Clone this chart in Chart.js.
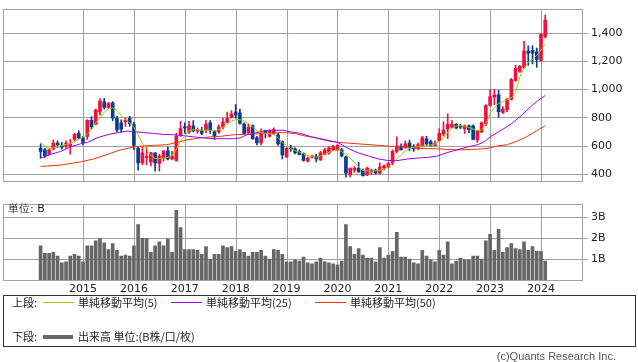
<!DOCTYPE html>
<html>
<head>
<meta charset="utf-8">
<script src="https://cdn.jsdelivr.net/npm/chart.js@4/dist/chart.umd.min.js"></script>
<style>
  body { margin: 0; background: #fff; width: 638px; height: 362px; position: relative; overflow: hidden; }
  canvas { position: absolute; left: 0; }
  .txt { position: absolute; font-family: 'Noto Sans CJK JP', sans-serif; font-size: 11px; color: #222; white-space: nowrap; line-height: 14px; }
  .ln { position: absolute; height: 1px; }
  #legendBox { position: absolute; left: 3px; top: 295px; width: 631px; height: 50px; border: 1px solid #333; }
</style>
</head>
<body>
<canvas id="priceChart" width="638" height="191" style="top:0"></canvas>
<canvas id="volChart" width="638" height="105" style="top:195px"></canvas>
<div class="txt" style="left:8px;top:202px;font-family:'DejaVu Sans';font-size:11px">単位: B</div>

<div id="legendBox"></div>
<div class="txt" style="left:12px;top:295px">上段:</div>
<div class="ln" style="left:43px;top:302px;width:31px;background:#99cc00"></div>
<div class="txt" style="left:78px;top:295px">単純移動平均(5)</div>
<div class="ln" style="left:171px;top:302px;width:31px;background:#9900ff"></div>
<div class="txt" style="left:206px;top:295px">単純移動平均(25)</div>
<div class="ln" style="left:315px;top:302px;width:31px;background:#ff3300"></div>
<div class="txt" style="left:350px;top:295px">単純移動平均(50)</div>
<div class="txt" style="left:12px;top:329px">下段:</div>
<div class="ln" style="left:43px;top:335px;width:30px;height:4px;background:#666"></div>
<div class="txt" style="left:78px;top:329px">出来高 単位:(B株/口/枚)</div>
<div class="txt" style="right:22px;top:349px;color:#555;font-family:'Liberation Sans'">(c)Quants Research Inc.</div>

<script>
// 月足: 2014年3月 〜 2024年2月 (x = 2015年1月からの月数)
const startMonth = -10;
const yearTicks = [2015, 2016, 2017, 2018, 2019, 2020, 2021, 2022, 2023, 2024];

const opens = [584,573,541,579,622,605,599,599,648,690,658,669,782,755,842,913,874,906,797,765,
  772,797,752,584,481,518,487,552,477,515,567,509,498,680,737,701,744,706,712,712,
  765,701,701,733,770,802,840,836,755,695,744,658,622,712,669,690,680,631,524,588,
  580,562,545,494,520,530,502,541,552,573,573,573,524,396,430,445,430,396,417,430,
  408,445,451,477,562,594,594,622,594,584,601,652,631,605,637,685,722,733,754,744,
  722,744,744,643,701,759,887,947,962,838,857,930,1064,1128,1156,1272,1278,1267,1207,1374];
const highs = [616,584,577,643,637,626,637,648,690,708,669,787,808,861,936,938,910,915,810,785,
  800,810,770,594,594,588,555,552,541,567,594,562,690,776,765,776,780,729,733,780,
  780,712,750,797,840,851,893,862,765,754,750,669,722,712,716,729,690,637,588,605,
  588,573,552,524,537,541,562,584,594,605,610,584,530,445,455,487,438,451,438,438,
  481,466,487,573,665,616,637,643,610,622,669,669,643,637,722,772,829,780,759,754,
  750,750,750,712,772,893,1000,1000,994,880,936,1080,1171,1171,1342,1310,1310,1293,1396,1528];
const lows = [515,520,537,573,588,579,584,541,637,652,609,648,722,750,819,861,865,780,700,700,
  740,740,575,430,466,466,460,423,423,494,502,502,494,669,690,690,701,690,680,695,
  690,648,690,722,765,797,797,755,680,690,648,609,609,658,665,680,605,509,520,562,
  545,537,494,487,515,487,498,537,541,567,567,524,380,381,413,413,387,391,402,402,
  402,430,445,466,552,573,584,567,562,573,594,605,601,601,631,672,652,729,722,722,
  690,695,643,626,695,744,883,893,802,830,844,926,1058,1122,1150,1171,1182,1156,1199,1364];
const closes = [562,530,573,622,609,592,622,616,684,658,626,782,737,855,919,874,900,797,714,720,
  784,759,605,481,552,524,552,481,530,567,509,530,669,723,729,744,708,716,690,755,
  712,669,737,770,797,829,819,760,690,733,652,622,690,690,708,716,616,537,584,580,
  552,541,498,515,530,509,552,573,588,594,605,530,408,445,445,417,391,445,430,408,
  451,460,477,562,601,573,616,594,580,610,658,616,605,622,690,714,754,754,729,733,
  744,716,648,708,765,887,951,962,844,862,932,1071,1150,1165,1272,1257,1257,1214,1391,1492];

// 出来高 (B)
const volumes = [1.64,1.28,1.28,1.32,1.14,0.82,0.87,1.14,1.23,1.14,0.87,1.64,1.64,1.87,1.98,1.78,1.46,1.74,1.42,1.14,
  1.19,1.14,1.64,2.65,2.0,2.0,1.32,1.64,1.83,1.64,1.96,1.32,3.33,2.51,1.46,1.46,1.46,1.42,1.23,1.60,
  1.0,1.23,1.23,1.64,1.55,1.60,1.37,1.46,1.32,1.14,1.32,1.32,1.42,1.14,1.0,1.46,1.42,1.23,0.87,0.87,
  0.96,0.91,1.10,0.82,0.78,0.87,1.05,0.87,0.82,0.78,0.73,0.91,2.65,1.60,1.23,1.51,1.19,1.05,1.05,0.87,
  1.55,1.05,1.19,1.37,2.28,1.10,1.10,1.0,0.82,0.78,1.42,1.14,0.96,0.87,1.42,1.19,1.83,0.78,0.91,1.05,
  0.96,0.96,1.14,1.14,1.0,1.87,2.19,1.42,2.42,1.32,1.55,1.74,1.51,1.46,1.83,1.42,1.60,1.37,1.37,0.91];

// 移動平均
const ma5 = [626,600,582,588,594,603,612,618,632,648,665,682,718,765,800,840,865,870,850,815,
  790,765,733,680,620,575,535,512,512,515,520,533,575,640,675,710,716,716,712,712,
  712,710,716,735,755,775,787,787,778,760,735,710,697,690,687,682,660,625,605,580,
  567,558,545,532,524,522,530,542,556,567,573,560,540,515,485,452,428,425,424,426,
  430,436,455,478,508,540,565,583,592,596,600,604,608,615,632,652,695,725,742,744,
  742,732,720,710,716,758,830,870,902,915,928,942,978,1090,1150,1195,1214,1243,1280,1320];
const ma25Pos = [0,2.35,4.7,7.06,9.4,11,13.3,15.7,18.1,20.4,22,24.3,26.7,29,31.4,33.7,36.1,38.4,40.8,43.1,
  45.5,47.1,48.6,51,53.3,55.7,57.3,58.8,61.2,63.5,65.6,67.8,70.1,72.5,74.9,77.3,79.6,81.9,84.3,86.6,
  88.9,91.3,93.6,96,98.4,100.7,103.1,104.6,106.2,108.5,110.9,113.3,115.6,117.2,119];
const ma25 = [515,541,562,594,616,626,658,680,695,706,703,695,690,682,680,674,665,658,652,652,
  652,658,680,695,708,712,712,701,690,669,652,637,626,584,552,530,509,498,498,509,
  515,520,530,555,575,594,610,630,669,710,754,815,880,920,958];
const ma50Pos = [0,4.7,9.4,12.5,15.7,18.8,22,24.3,26.7,29.8,32.2,34.5,37.6,40,42.4,45.5,48.6,51,53.3,55.7,
  58,60.4,62.7,65.1,70.1,74.9,79.6,84.3,88.9,93.6,98.4,103.1,105.4,107.7,110.1,112.5,114.8,117.2,119];
const ma50 = [456,466,488,509,541,573,594,601,605,610,626,644,658,665,669,680,684,686,690,695,
  695,686,669,658,626,616,605,594,584,580,573,578,584,601,610,637,669,712,744];

const RED = '#f0103c', BLUE = '#0c3b94', GRID = '#a0a0a0';
const xMin = -18.87, xMax = 117.67;

const bodyData = opens.map((o, i) => ({ x: startMonth + i, y: [o, closes[i]] }));
const wickData = highs.map((h, i) => ({ x: startMonth + i, y: [lows[i], h] }));
const candleColors = opens.map((o, i) => closes[i] >= o ? RED : BLUE);

const yearGridTicks = yearTicks.map(y => (y - 2015) * 12);

// 枠線と年の縦グリッド (棒グラフの grid.offset を避けて自前で描く)
const framePlugin = {
  id: 'frame',
  beforeDatasetsDraw(chart) {
    const a = chart.chartArea, c = chart.ctx, xs = chart.scales.x;
    c.save();
    c.strokeStyle = GRID;
    c.lineWidth = 1;
    c.beginPath();
    yearGridTicks.forEach(v => {
      const px = Math.round(xs.getPixelForValue(v)) + 0.5;
      c.moveTo(px, a.top);
      c.lineTo(px, a.bottom);
    });
    c.stroke();
    c.restore();
  },
  afterDraw(chart) {
    const a = chart.chartArea, c = chart.ctx;
    c.save();
    c.strokeStyle = GRID;
    c.lineWidth = 1;
    const l = Math.floor(a.left) + 0.5, t = Math.floor(a.top) + 0.5;
    const r = Math.floor(a.right) + 0.5, b = Math.floor(a.bottom) + 0.5;
    c.strokeRect(l, t, r - l, b - t);
    c.restore();
  }
};

const tickFont = { family: 'DejaVu Sans', size: 11 };

function xScale(showLabels, height) {
  return {
    type: 'linear', min: xMin, max: xMax, offset: false,
    afterBuildTicks: s => { s.ticks = yearGridTicks.map(v => ({ value: v })); },
    afterFit: s => { s.height = height; },
    grid: { display: false, drawTicks: false },
    border: { display: false },
    ticks: {
      display: showLabels, padding: 3, font: tickFont, color: '#222', maxRotation: 0,
      callback: v => String(2015 + v / 12)
    }
  };
}

new Chart(document.getElementById('priceChart'), {
  type: 'bar',
  data: {
    datasets: [
      { type: 'line', data: ma5.map((v, i) => ({ x: startMonth + i, y: v })), borderColor: '#99cc00', borderWidth: 1, pointRadius: 0, order: 0 },
      { type: 'line', data: ma25Pos.map((p, k) => ({ x: startMonth + p, y: ma25[k] })), borderColor: '#9900ff', borderWidth: 1, pointRadius: 0, order: 0 },
      { type: 'line', data: ma50Pos.map((p, k) => ({ x: startMonth + p, y: ma50[k] })), borderColor: '#ff3300', borderWidth: 1, pointRadius: 0, order: 0 },
      { data: bodyData, backgroundColor: candleColors, barThickness: 3, grouped: false, minBarLength: 1, order: 1 },
      { data: wickData, backgroundColor: candleColors, barThickness: 1, grouped: false, order: 2 }
    ]
  },
  options: {
    responsive: false, animation: false, devicePixelRatio: 1,
    layout: { padding: { left: 3, right: 0, top: 0, bottom: 1 } },
    plugins: { legend: { display: false }, tooltip: { enabled: false } },
    scales: {
      x: xScale(false, 0),
      y: {
        position: 'right', min: 350, max: 1566,
        afterBuildTicks: s => { s.ticks = [400, 600, 800, 1000, 1200, 1400].map(v => ({ value: v })); },
        afterFit: s => { s.width = 56; },
        grid: { color: GRID, tickLength: 6 },
        border: { display: false },
        ticks: { font: tickFont, color: '#222', padding: 3, callback: v => v.toLocaleString('en-US') }
      }
    }
  },
  plugins: [framePlugin]
});

new Chart(document.getElementById('volChart'), {
  type: 'bar',
  data: {
    datasets: [
      { data: volumes.map((v, i) => ({ x: startMonth + i, y: v })), backgroundColor: '#666666', barThickness: 3, grouped: false }
    ]
  },
  options: {
    responsive: false, animation: false, devicePixelRatio: 1,
    layout: { padding: { left: 3, right: 0, top: 6, bottom: 0 } },
    plugins: { legend: { display: false }, tooltip: { enabled: false } },
    scales: {
      x: xScale(true, 20),
      y: {
        position: 'right', min: 0, max: 3.61,
        afterBuildTicks: s => { s.ticks = [1, 2, 3].map(v => ({ value: v })); },
        afterFit: s => { s.width = 56; },
        grid: { color: GRID, tickLength: 6 },
        border: { display: false },
        ticks: { font: tickFont, color: '#222', padding: 3, callback: v => v + 'B' }
      }
    }
  },
  plugins: [framePlugin]
});
</script>
</body>
</html>
